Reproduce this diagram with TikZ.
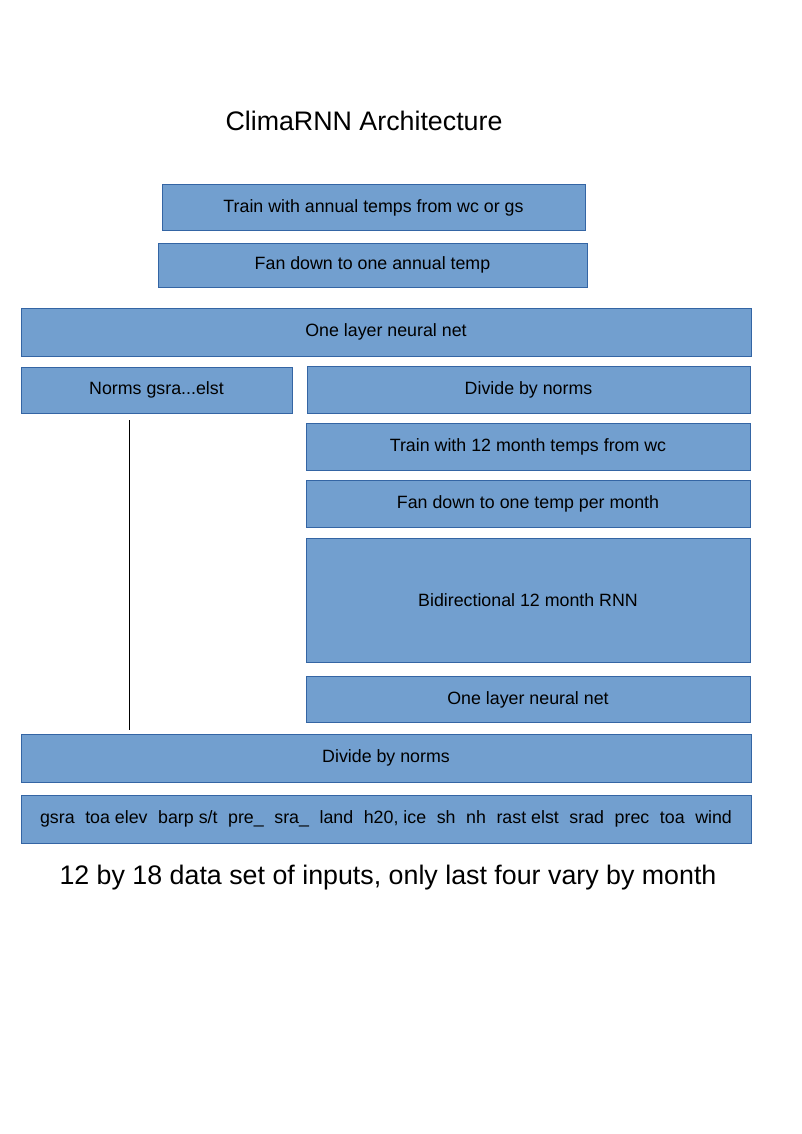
\documentclass[tikz,border=0pt]{standalone}
\usepackage{fontspec}
\setmainfont{Liberation Sans}
\usetikzlibrary{positioning}
\definecolor{boxfill}{HTML}{729FCF}
\definecolor{boxedge}{HTML}{3465A4}
\newcommand{\boxfont}{\fontsize{17.8}{21}\selectfont}
\newcommand{\bigfont}{\fontsize{26.8}{31}\selectfont}
\newcommand{\gap}{\hspace{10.6pt}}
\tikzset{
  layer/.style   = {rectangle, draw=boxedge, line width=1pt, fill=boxfill, font=\boxfont, inner sep=0pt},
  heading/.style = {font=\bigfont, inner sep=0pt},
  link/.style    = {line width=1pt}
}

\begin{document}
\begin{tikzpicture}[x=1pt, y=-1pt]
  \useasboundingbox (0,0) rectangle (802,1134);

  \node[heading] (title) at (364,121) {ClimaRNN Architecture};

  % annual training (top)
  \node[layer, minimum width=423pt, minimum height=45pt] (trainann) at (373.5,207.5) {Train with annual temps from wc or gs};
  \node[layer, minimum width=429pt, minimum height=44pt] (fanann)   at (372.5,265)   {Fan down to one annual temp};
  \node[layer, minimum width=730pt, minimum height=48pt] (nettop)   at (386,332)     {One layer neural net};

  % left column: norms
  \node[layer, minimum width=271pt, minimum height=46pt] (norms)    at (156.5,390)   {Norms gsra...elst};

  % right column: monthly stack
  \node[layer, minimum width=443pt, minimum height=47pt] (divright) at (528.5,390)   {Divide by norms};
  \node[layer, minimum width=444pt, minimum height=47pt] (trainmon) at (528,447)     {Train with 12 month temps from wc};
  \node[layer, minimum width=444pt, minimum height=47pt] (fanmon)   at (528,504)     {Fan down to one temp per month};
  \node[layer, minimum width=444pt, minimum height=124pt] (rnn)     at (528,600.5)   {Bidirectional 12 month RNN};
  \node[layer, minimum width=444pt, minimum height=46pt] (netbot)   at (528,699.5)   {One layer neural net};

  % inputs (bottom)
  \node[layer, minimum width=730pt, minimum height=48pt] (divall)   at (386,758)     {Divide by norms};
  \node[layer, minimum width=730pt, minimum height=48pt] (inputs)   at (386,819)
    {gsra\gap toa elev\gap barp s/t\gap pre\_\gap sra\_\gap land\gap h20, ice\gap sh\gap nh\gap rast elst\gap srad\gap prec\gap toa\gap wind};

  \node[heading] (caption) at (388,878) {12 by 18 data set of inputs, only last four vary by month};

  \coordinate (ltop) at (129,420);
  \coordinate (lbot) at (129,730);
  \draw[link] (ltop) -- (lbot);

\end{tikzpicture}
\end{document}
